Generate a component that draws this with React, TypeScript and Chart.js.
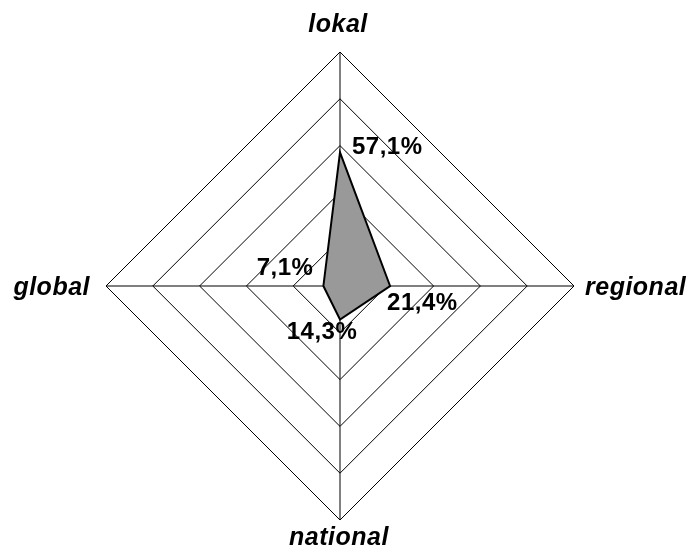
import React, { useEffect, useRef } from "react";
import { Chart, registerables } from "chart.js";

Chart.register(...registerables);

const categories = ["lokal", "regional", "national", "global"];
const values = [57.1, 21.4, 14.3, 7.1];
const valueLabels = ["57,1%", "21,4%", "14,3%", "7,1%"];
const axisMax = 100;
const axisStep = 20;

const labelPlugin = {
  id: "customLabels",
  afterDatasetsDraw(chart: any) {
    const ctx = chart.ctx;
    const scale = chart.scales.r;
    const meta = chart.getDatasetMeta(0);
    ctx.save();
    ctx.fillStyle = "#000";
    // axis labels
    ctx.font = "italic bold 25px 'Liberation Sans', Arial, sans-serif";
    try { (ctx as any).letterSpacing = "0.5px"; } catch (e) {}
    ctx.textBaseline = "alphabetic";
    const r = scale.drawingArea;
    const axisOffsets = [
      { dx: -2, dy: -20, align: "center" },
      { dx: 11, dy: 9, align: "left" },
      { dx: -1, dy: 25, align: "center" },
      { dx: -16, dy: 9, align: "right" },
    ];
    categories.forEach((c, i) => {
      const p = scale.getPointPosition(i, r);
      const o = axisOffsets[i];
      ctx.textAlign = o.align;
      ctx.fillText(c, p.x + o.dx, p.y + o.dy);
    });
    // value labels
    ctx.font = "bold 24px 'Liberation Sans', Arial, sans-serif";
    try { (ctx as any).letterSpacing = "0.5px"; } catch (e) {}
    ctx.textBaseline = "alphabetic";
    const valOffsets = [
      { dx: 12, dy: 2, align: "left" },
      { dx: -3, dy: 24, align: "left" },
      { dx: -18, dy: 20, align: "center" },
      { dx: -10, dy: -11, align: "right" },
    ];
    meta.data.forEach((pt: any, i: number) => {
      const o = valOffsets[i];
      ctx.textAlign = o.align;
      ctx.fillText(valueLabels[i], pt.x + o.dx, pt.y + o.dy);
    });
    ctx.restore();
  },
};

export default function App() {
  const ref = useRef<HTMLCanvasElement>(null);
  useEffect(() => {
    if (!ref.current) return;
    const chart = new Chart(ref.current, {
      type: "radar",
      data: {
        labels: categories,
        datasets: [
          {
            data: values,
            backgroundColor: "#999999",
            borderColor: "#000000",
            borderWidth: 2,
            fill: true,
            pointRadius: 0,
            pointHoverRadius: 0,
          },
        ],
      },
      options: {
        animation: false,
        responsive: false,
        layout: { padding: { left: 106, right: 114, top: 52, bottom: 38 } },
        plugins: { legend: { display: false }, tooltip: { enabled: false } },
        scales: {
          r: {
            min: 0,
            max: axisMax,
            ticks: { stepSize: axisStep, display: false },
            grid: { color: "#000000", lineWidth: 1 },
            angleLines: { color: "#000000", lineWidth: 1 },
            pointLabels: { display: false },
          },
        },
      },
      plugins: [labelPlugin],
    });
    return () => chart.destroy();
  }, []);
  return (
    <div style={{ position: "fixed", left: 0, top: 0, width: 688, height: 558, background: "#fff" }}>
      <canvas ref={ref} width={688} height={558} style={{ width: 688, height: 558 }} />
    </div>
  );
}
